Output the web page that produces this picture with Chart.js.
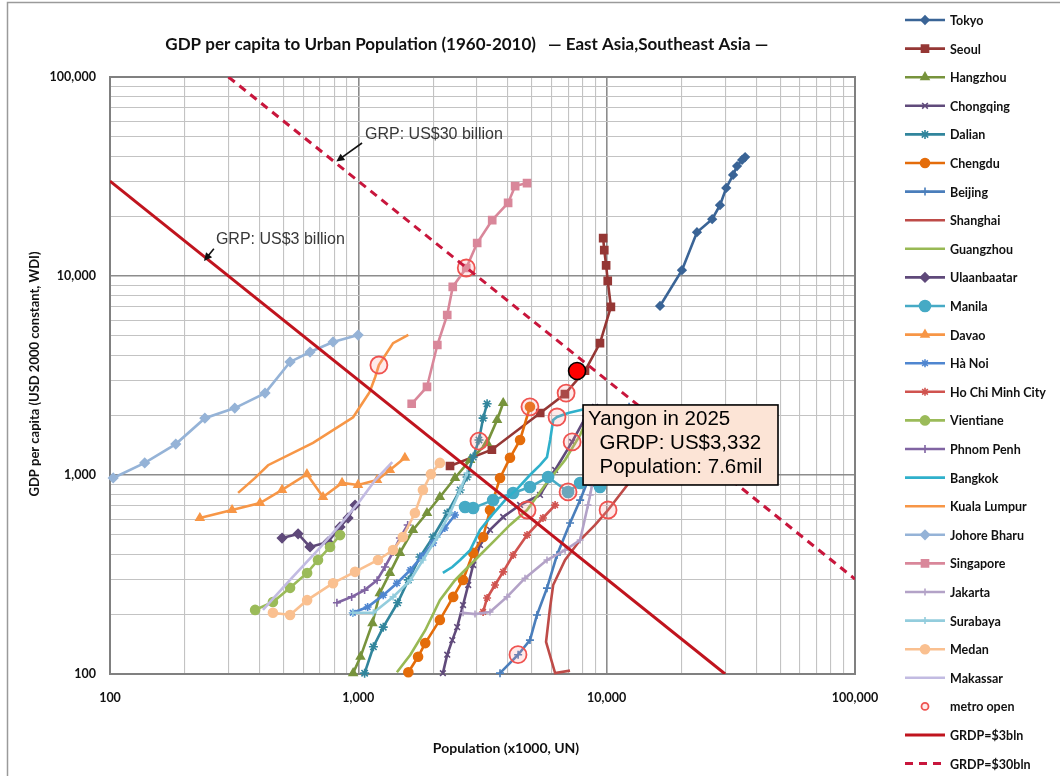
<!DOCTYPE html>
<html>
<head>
<meta charset="utf-8">
<script src="https://cdn.jsdelivr.net/npm/chart.js@4.4.1/dist/chart.umd.min.js"></script>
<style>
  html, body { margin: 0; padding: 0; background: #fff; }
  canvas { display: block; }
</style>
</head>
<body>
<canvas id="chart" width="1060" height="776"></canvas>
<script>
// Each trajectory: [urban population (x1000, UN), GDP per capita (USD 2000 constant, WDI)]
const tokyo = [[16400,7070],[20100,10700],[23100,16600],[26600,19300],[28600,22700],[30300,27700],[32300,32200],[33500,35700],[35100,38300],[36100,39600]];
const seoul = [[2340,1110],[3450,1340],[5400,2050],[6790,2550],[8180,3340],[9400,4600],[10400,6990],[10100,9450],[9950,11300],[9780,13500],[9680,15500]];
const hangzhou = [[953,101],[1020,122],[1140,180],[1220,255],[1340,322],[1470,406],[1660,529],[1890,644],[2130,775],[2450,966],[2820,1190],[3300,1450],[3620,1890],[3830,2300]];
const chongqing = [[2190,101],[2280,125],[2390,148],[2500,172],[2640,222],[2770,280],[2900,353],[3090,445],[3390,530],[3830,615],[4480,707],[5390,794],[6200,1060],[7260,1466],[8190,1933],[8980,2200]];
const dalian = [[1060,101],[1150,137],[1260,172],[1440,228],[1590,297],[1770,387],[2000,488],[2280,644],[2570,841],[2740,977],[2900,1230],[3060,1500],[3180,1930],[3300,2280]];
const chengdu = [[1590,102],[1740,122],[1860,143],[2130,187],[2410,244],[2640,297],[2900,406],[3180,488],[3390,667],[3720,966],[4080,1220],[4480,1500],[4910,2200]];
const beijing = [[3720,101],[4400,125],[4910,148],[5240,198],[5750,270],[6310,396],[7120,574],[7820,748],[8580,1000],[9860,1416],[11320,1889],[12310,2200]];
const shanghai = [[7120,104],[6200,101],[5700,145],[5900,210],[6090,280],[6800,374],[7820,471],[8980,561],[10130,667],[13010,1000],[16410,1500],[19040,2123]];
const guangzhou = [[1430,102],[1620,125],[1860,166],[2130,235],[2450,296],[2950,374],[3550,471],[4080,561],[4780,667],[5650,891],[6800,1189],[7820,1589],[8730,2200]];
const ulaanbaatar = [[493,482],[572,506],[639,435],[755,461],[844,548],[909,608],[970,706]];
const manila = [[2690,690],[2900,683],[3490,748],[4200,812],[4910,871],[5810,977],[6990,822],[7820,912],[9400,871],[10510,1060],[11320,1383]];
const davao = [[230,608],[310,667],[402,723],[493,841],[621,1010],[721,775],[860,912],[997,891],[1190,944],[1340,1060],[1540,1220]];
const hanoi = [[950,203],[1090,217],[1260,249],[1430,286],[1620,333],[1810,392],[2000,455],[2230,542],[2450,630]];
const hoChiMinh = [[3180,205],[3300,241],[3550,280],[3830,326],[4200,396],[4780,499],[5540,608],[6200,706]];
const vientiane = [[384,210],[453,230],[531,271],[622,322],[688,374],[769,435],[844,499]];
const phnomPenh = [[820,228],[940,244],[1060,264],[1190,296],[1280,345],[1380,410],[1470,482],[1580,561]];
const bangkok = [[2190,322],[2390,345],[2570,374],[2820,419],[3090,530],[3460,630],[3900,748],[4400,861],[4910,1000],[5390,1122],[5750,1230],[5920,1500],[6090,1890],[6310,1956],[7000,2050],[8260,2150]];
const kualaLumpur = [[328,813],[384,967],[433,1120],[657,1450],[953,1950],[1110,2610],[1170,3110],[1210,3570],[1380,4600],[1590,5060]];
const johoreBharu = [[103,966],[138,1150],[184,1430],[241,1930],[318,2170],[421,2580],[531,3700],[639,4150],[791,4660],[998,5050]];
const singapore = [[1640,2280],[1890,2770],[2080,4500],[2280,6370],[2400,8820],[2720,10970],[3010,14650],[3460,19100],[4010,23300],[4280,28300],[4780,29300]];
const jakarta = [[2640,203],[2950,200],[3390,205],[3970,244],[4690,303],[5750,374],[6800,419],[7820,471],[8410,706],[8580,794],[8810,944],[9320,1135]];
const surabaya = [[950,203],[1150,203],[1380,244],[1620,296],[1820,374],[2080,487],[2340,644],[2570,841],[2740,1023]];
const medan = [[453,203],[531,198],[622,235],[791,286],[970,326],[1200,374],[1380,420],[1510,488],[1690,644],[1820,841],[1960,1010],[2130,1150]];
const makassar = [[413,210],[531,297],[688,420],[844,561],[1020,748],[1170,944],[1370,1160]];

// Year of first metro line in each city
const metroOpen = [[1210,3570],[2720,10970],[3060,1480],[4910,2200],[6310,1956],[6865,2580],[7260,1466],[6990,822],[4780,667],[10130,667],[4395,125]];

// Iso-GRP lines (end points on the axis frame)
const grdp3bln = [[100,30000],[30000,100]];
const grdp30bln = [[300,100000],[100000,300]];

// Yangon projection
const yangon2025 = [[7600,3332]];
const yangonNote = ['Yangon in 2025', '  GRDP: US$3,332', '  Population: 7.6mil'];

// Axis ticks
const decadeTicks = [100, 1000, 10000, 100000];
const decadeLabels = ['100', '1,000', '10,000', '100,000'];

const FONT = 'Lato, "Open Sans", sans-serif';
const ARIAL = '"Liberation Sans", Arial, sans-serif';

const cities = [
  { name: 'Tokyo', data: tokyo, color: '#3A6496', marker: 'rectRot', r: 4 },
  { name: 'Seoul', data: seoul, color: '#953735', marker: 'rect', r: 5 },
  { name: 'Hangzhou', data: hangzhou, color: '#77933C', marker: 'triangle', r: 4.5 },
  { name: 'Chongqing', data: chongqing, color: '#604A7B', marker: 'crossRot', r: 4 },
  { name: 'Dalian', data: dalian, color: '#31859C', marker: 'star', r: 4.5 },
  { name: 'Chengdu', data: chengdu, color: '#E46C0A', marker: 'circle', r: 4.5 },
  { name: 'Beijing', data: beijing, color: '#4A7EBB', marker: 'cross', r: 4 },
  { name: 'Shanghai', data: shanghai, color: '#BE4B48', marker: false, r: 0 },
  { name: 'Guangzhou', data: guangzhou, color: '#98B954', marker: false, r: 0 },
  { name: 'Ulaanbaatar', data: ulaanbaatar, color: '#5F497A', marker: 'rectRot', r: 4.5 },
  { name: 'Manila', data: manila, color: '#46AAC5', marker: 'circle', r: 5.5 },
  { name: 'Davao', data: davao, color: '#F79646', marker: 'triangle', r: 4.5 },
  { name: 'Hà Noi', data: hanoi, color: '#4F86D0', marker: 'star', r: 4 },
  { name: 'Ho Chi Minh City', data: hoChiMinh, color: '#D0534F', marker: 'star', r: 4 },
  { name: 'Vientiane', data: vientiane, color: '#9BBB59', marker: 'circle', r: 4.5 },
  { name: 'Phnom Penh', data: phnomPenh, color: '#8064A2', marker: 'cross', r: 4 },
  { name: 'Bangkok', data: bangkok, color: '#2FB0CB', marker: false, r: 0 },
  { name: 'Kuala Lumpur', data: kualaLumpur, color: '#F79646', marker: false, r: 0 },
  { name: 'Johore Bharu', data: johoreBharu, color: '#95B3D7', marker: 'rectRot', r: 4.5 },
  { name: 'Singapore', data: singapore, color: '#D9879A', marker: 'rect', r: 5 },
  { name: 'Jakarta', data: jakarta, color: '#B3A2C7', marker: 'cross', r: 3.5 },
  { name: 'Surabaya', data: surabaya, color: '#93CDDD', marker: 'cross', r: 3.5 },
  { name: 'Medan', data: medan, color: '#FAC090', marker: 'circle', r: 4.5 },
  { name: 'Makassar', data: makassar, color: '#C2BBE2', marker: false, r: 0 }
];

const toXY = arr => arr.map(([x, y]) => ({ x, y }));

const datasets = cities.map((c, i) => ({
  label: c.name,
  data: toXY(c.data),
  showLine: true,
  borderColor: c.color,
  backgroundColor: c.color,
  borderWidth: 2.6,
  pointStyle: c.marker || 'circle',
  pointRadius: c.r,
  pointBackgroundColor: c.color,
  pointBorderColor: c.color,
  pointBorderWidth: 1.6,
  tension: 0,
  clip: 8,
  order: 100 - i
}));

datasets.push({
  label: 'metro open',
  data: toXY(metroOpen),
  showLine: false,
  pointStyle: 'circle',
  pointRadius: 8.5,
  pointBackgroundColor: 'rgba(255,150,150,0.2)',
  pointBorderColor: '#EF5350',
  pointBorderWidth: 1.8,
  legendRadius: 3.5,
  legendLine: false,
  clip: 10,
  order: 20
});
datasets.push({
  label: 'GRDP=$3bln',
  data: toXY(grdp3bln),
  showLine: true,
  borderColor: '#C0141E',
  borderWidth: 3,
  pointRadius: 0,
  order: 19
});
datasets.push({
  label: 'GRDP=$30bln',
  data: toXY(grdp30bln),
  showLine: true,
  borderColor: '#C8163C',
  borderWidth: 3,
  borderDash: [8, 6],
  pointRadius: 0,
  order: 18
});
datasets.push({
  label: 'Yangon 2025',
  data: toXY(yangon2025),
  showLine: false,
  pointStyle: 'circle',
  pointRadius: 8.5,
  pointBackgroundColor: '#FF0000',
  pointBorderColor: '#000000',
  pointBorderWidth: 1.6,
  inLegend: false,
  order: 10
});

// Notes on the iso-GRP lines: text anchor and arrow in data units
const grpNotes = [
  { text: 'GRP: US$30 billion', at: [1064, 51200], from: [1035, 46600], to: [815, 37600] },
  { text: 'GRP: US$3 billion', at: [267, 15200], from: [262, 13700], to: [239, 11900] }
];
const yangonBox = { topLeft: [8035, 2249], bottomRight: [48970, 891] };

const isDecade = v => decadeTicks.some(d => Math.abs(v - d) < 1e-6 * d);
const gridValues = [];
for (let d = 100; d < 100000; d *= 10) for (let m = 1; m < 10; m++) gridValues.push(d * m);
gridValues.push(100000);

function logAxis(extra) {
  return Object.assign({
    type: 'logarithmic',
    min: 100,
    max: 100000,
    afterBuildTicks: axis => { axis.ticks = gridValues.map(v => ({ value: v, major: isDecade(v) })); },
    ticks: {
      autoSkip: false,
      maxRotation: 0,
      color: '#111',
      font: { family: FONT, size: 12.5, weight: 'bold' },
      callback: v => { const i = decadeTicks.findIndex(d => Math.abs(v - d) < 1e-6 * d); return i >= 0 ? decadeLabels[i] : ''; }
    },
    grid: {
      drawTicks: false,
      color: c => (c.tick && isDecade(c.tick.value)) ? '#8C8C8C' : '#C3C3C3',
      lineWidth: c => (c.tick && isDecade(c.tick.value)) ? 1.6 : 1.1
    },
    border: { display: false }
  }, extra);
}

function drawArrow(ctx, x1, y1, x2, y2) {
  const a = Math.atan2(y2 - y1, x2 - x1), h = 9;
  ctx.beginPath(); ctx.moveTo(x1, y1); ctx.lineTo(x2 - Math.cos(a) * 4, y2 - Math.sin(a) * 4); ctx.stroke();
  ctx.beginPath();
  ctx.moveTo(x2, y2);
  ctx.lineTo(x2 - h * Math.cos(a - 0.45), y2 - h * Math.sin(a - 0.45));
  ctx.lineTo(x2 - h * Math.cos(a + 0.45), y2 - h * Math.sin(a + 0.45));
  ctx.closePath(); ctx.fill();
}

const decorations = {
  id: 'decorations',
  beforeDraw(chart) {
    const ctx = chart.ctx;
    ctx.save();
    ctx.fillStyle = '#fff';
    ctx.fillRect(0, 0, chart.width, chart.height);
    ctx.strokeStyle = '#9A9A9A';
    ctx.lineWidth = 1.5;
    ctx.strokeRect(7.5, 2.5, chart.width + 10, chart.height + 10);
    ctx.restore();
  },
  beforeDatasetsDraw(chart) {
    const ctx = chart.ctx, a = chart.chartArea;
    ctx.save();
    ctx.strokeStyle = '#808080';
    ctx.lineWidth = 2;
    ctx.strokeRect(a.left, a.top, a.right - a.left, a.bottom - a.top);
    ctx.restore();
  },
  afterDatasetsDraw(chart) {
    const ctx = chart.ctx, xs = chart.scales.x, ys = chart.scales.y;
    const px = v => xs.getPixelForValue(v), py = v => ys.getPixelForValue(v);
    ctx.save();
    // iso-GRP notes
    ctx.font = '16px ' + ARIAL;
    ctx.textBaseline = 'middle';
    grpNotes.forEach(n => {
      ctx.fillStyle = '#383838';
      ctx.fillText(n.text, px(n.at[0]), py(n.at[1]));
      ctx.strokeStyle = '#111'; ctx.fillStyle = '#111'; ctx.lineWidth = 1.6;
      drawArrow(ctx, px(n.from[0]), py(n.from[1]), px(n.to[0]), py(n.to[1]));
    });
    // Yangon call-out
    const bx = px(yangonBox.topLeft[0]), by = py(yangonBox.topLeft[1]);
    const bw = px(yangonBox.bottomRight[0]) - bx, bh = py(yangonBox.bottomRight[1]) - by;
    ctx.fillStyle = '#FCE4D6';
    ctx.fillRect(bx, by, bw, bh);
    ctx.strokeStyle = '#000'; ctx.lineWidth = 1.6;
    ctx.strokeRect(bx, by, bw, bh);
    ctx.fillStyle = '#000';
    ctx.font = '20.5px ' + ARIAL;
    ctx.textBaseline = 'middle';
    yangonNote.forEach((t, i) => ctx.fillText(t, bx + 5, by + 14 + i * 24));
    ctx.restore();
  },
  afterDraw(chart) {
    const ctx = chart.ctx;
    ctx.save();
    ctx.fillStyle = '#111';
    ctx.textBaseline = 'middle';
    // title in two parts
    ctx.font = 'bold 17px ' + FONT;
    ctx.textAlign = 'right';
    ctx.fillText('GDP per capita to Urban Population (1960-2010)', 536, 45);
    ctx.textAlign = 'left';
    ctx.fillText('\u2014 East Asia,Southeast Asia \u2014', 548, 45);
    // axis titles
    ctx.font = 'bold 14px ' + FONT;
    ctx.textAlign = 'center';
    ctx.fillText('Population (x1000, UN)', 506, 748);
    ctx.save();
    ctx.translate(35, 374);
    ctx.rotate(-Math.PI / 2);
    ctx.font = 'bold 13px ' + FONT;
    ctx.fillText('GDP per capita (USD 2000 constant, WDI)', 0, 0);
    ctx.restore();
    // legend
    ctx.textAlign = 'left';
    ctx.font = 'bold 12.5px ' + FONT;
    const items = chart.data.datasets.filter(d => d.inLegend !== false);
    items.forEach((ds, i) => {
      const y = 20 + i * 28.6;
      if (ds.legendLine !== false) {
        ctx.strokeStyle = ds.borderColor;
        ctx.lineWidth = ds.borderWidth;
        ctx.setLineDash(ds.borderDash || []);
        ctx.beginPath(); ctx.moveTo(905, y); ctx.lineTo(945, y); ctx.stroke();
        ctx.setLineDash([]);
      }
      if (ds.pointRadius > 0) {
        ctx.fillStyle = ds.pointBackgroundColor;
        ctx.strokeStyle = ds.pointBorderColor;
        ctx.lineWidth = ds.pointBorderWidth;
        Chart.helpers.drawPoint(ctx, { pointStyle: ds.pointStyle, radius: ds.legendRadius || ds.pointRadius, rotation: 0, borderWidth: ds.pointBorderWidth }, 925, y);
      }
      ctx.fillStyle = '#111';
      ctx.fillText(ds.label, 950, y + 1);
    });
    ctx.restore();
  }
};

new Chart(document.getElementById('chart'), {
  type: 'scatter',
  data: { datasets },
  plugins: [decorations],
  options: {
    responsive: false,
    animation: false,
    events: [],
    layout: { padding: { left: 0, top: 77, right: 205, bottom: 0 } },
    plugins: { legend: { display: false }, tooltip: { enabled: false }, title: { display: false } },
    scales: {
      x: logAxis({
        position: 'bottom',
        afterFit: s => { s.height = 102; },
        ticks: Object.assign({}, logAxis({}).ticks, { padding: 16 })
      }),
      y: logAxis({
        position: 'left',
        afterFit: s => { s.width = 110; },
        ticks: Object.assign({}, logAxis({}).ticks, { padding: 14 })
      })
    }
  }
});
</script>
</body>
</html>
